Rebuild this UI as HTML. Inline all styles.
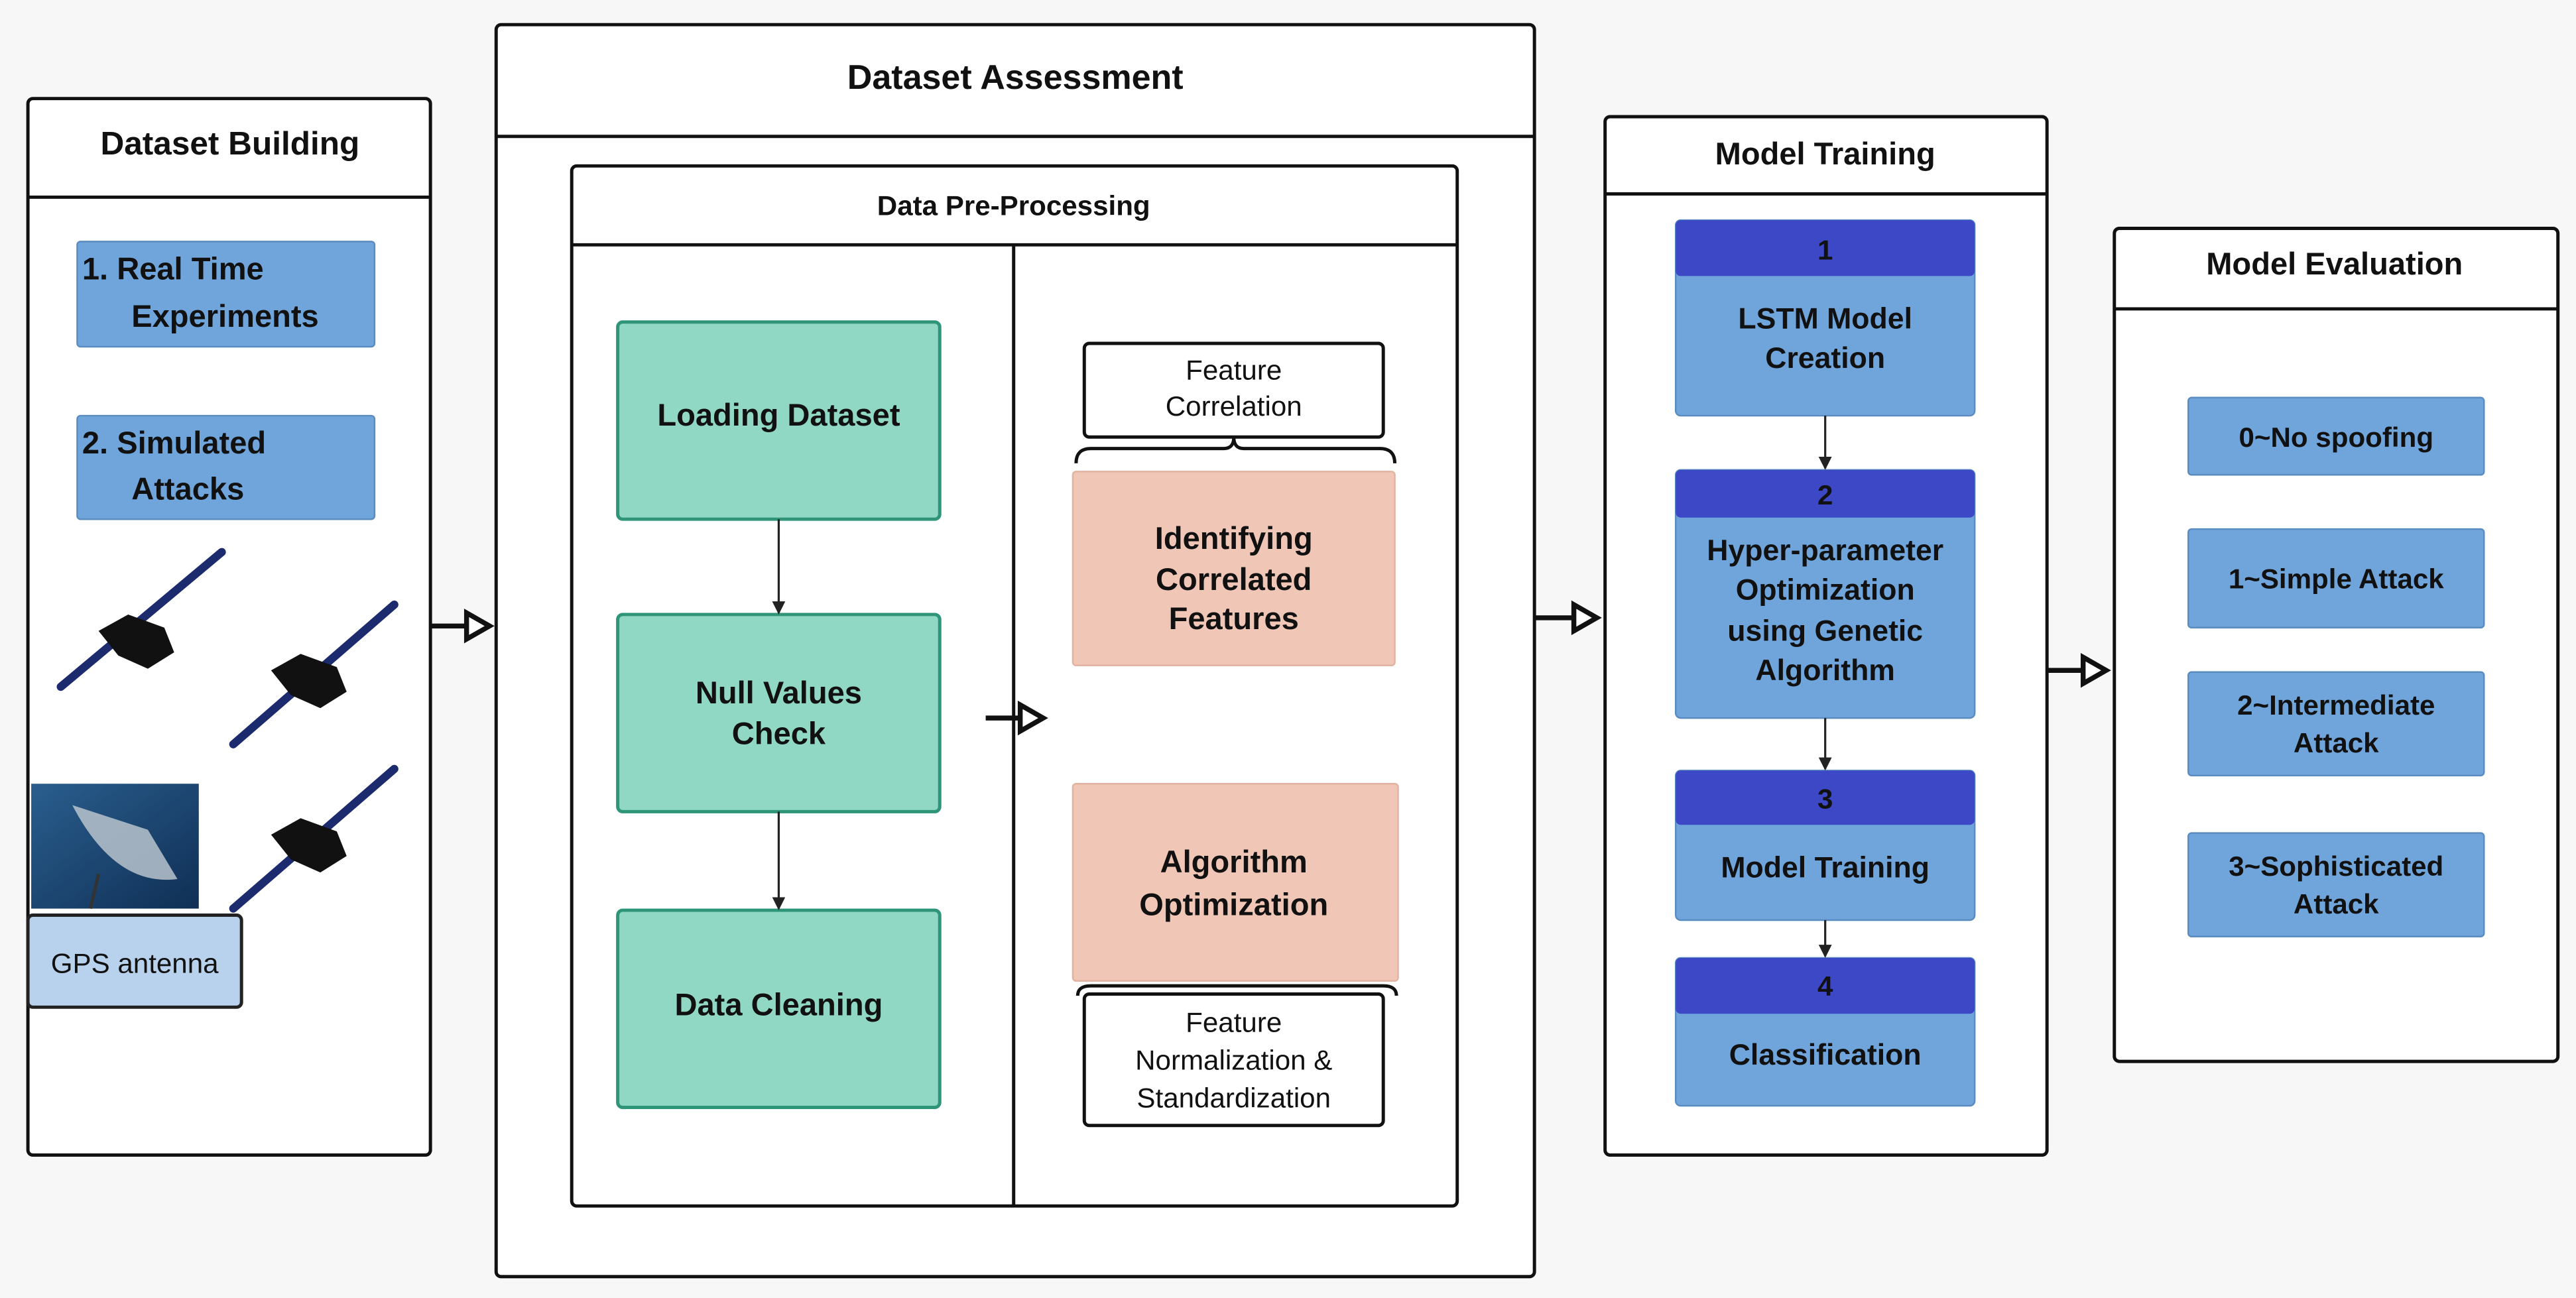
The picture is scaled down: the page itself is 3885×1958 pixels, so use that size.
<!DOCTYPE html>
<html><head><meta charset="utf-8"><style>
html,body{margin:0;padding:0;background:#f7f7f7;}
svg{display:block;}
text{font-family:"Liberation Sans",sans-serif;font-weight:bold;fill:#111;text-anchor:middle;}
.n{font-weight:normal;}
</style></head><body>
<svg width="3885" height="1958" viewBox="0 0 1568 790" preserveAspectRatio="none" xmlns="http://www.w3.org/2000/svg">
<defs>
<marker id="a" markerWidth="8" markerHeight="8" refX="7" refY="4" orient="auto" markerUnits="userSpaceOnUse"><path d="M0,0 L8,4 L0,8 Z" fill="#222"/></marker>
<linearGradient id="dish" x1="0" y1="0" x2="1" y2="1"><stop offset="0" stop-color="#2a5e8e"/><stop offset="1" stop-color="#0f2f55"/></linearGradient>
</defs>
<rect width="1568" height="790" fill="#f7f7f7"/>
<g fill="#fff" stroke="#111" stroke-width="2">
<!-- Dataset Building -->
<rect x="17" y="60" width="245" height="643" rx="3"/>
<line x1="17" y1="120" x2="262" y2="120"/>
<!-- Dataset Assessment -->
<rect x="302" y="15" width="632" height="762" rx="3"/>
<line x1="302" y1="83" x2="934" y2="83"/>
<rect x="348" y="101" width="539" height="633" rx="3"/>
<line x1="348" y1="149" x2="887" y2="149"/>
<line x1="617" y1="149" x2="617" y2="734"/>
<!-- Model Training -->
<rect x="977" y="71" width="269" height="632" rx="3"/>
<line x1="977" y1="118" x2="1246" y2="118"/>
<!-- Model Evaluation -->
<rect x="1287" y="139" width="270" height="507" rx="3"/>
<line x1="1287" y1="188" x2="1557" y2="188"/>
</g>
<text x="140" y="94" font-size="20">Dataset Building</text>
<text x="618" y="54" font-size="21">Dataset Assessment</text>
<text x="617" y="131" font-size="17">Data Pre-Processing</text>
<text x="1111" y="100" font-size="19">Model Training</text>
<text x="1421" y="167" font-size="19">Model Evaluation</text>

<!-- Dataset Building content -->
<g fill="#70a5dc" stroke="#5b8cc0" stroke-width="1">
<rect x="47" y="147" width="181" height="64" rx="2"/>
<rect x="47" y="253" width="181" height="63" rx="2"/>
</g>
<text x="50" y="170" font-size="19" style="text-anchor:start">1. Real Time</text>
<text x="80" y="199" font-size="19" style="text-anchor:start">Experiments</text>
<text x="50" y="276" font-size="19" style="text-anchor:start">2. Simulated</text>
<text x="80" y="304" font-size="19" style="text-anchor:start">Attacks</text>
<!-- satellites -->
<g stroke="#1c2a6e" stroke-width="5" stroke-linecap="round">
<line x1="37" y1="418" x2="135" y2="336"/>
<line x1="142" y1="453" x2="240" y2="368"/>
<line x1="142" y1="553" x2="240" y2="468"/>
</g>
<g fill="#111">
<path d="M60,384 l18,-10 l22,8 l6,15 l-16,10 l-18,-8 z"/>
<path d="M165,408 l18,-10 l22,8 l6,15 l-16,10 l-18,-8 z"/>
<path d="M165,508 l18,-10 l22,8 l6,15 l-16,10 l-18,-8 z"/>
</g>
<rect x="19" y="477" width="102" height="76" fill="url(#dish)"/>
<path d="M44,490 Q70,540 108,535 L90,505 Z" fill="#b9c3cc" opacity="0.85"/>
<line x1="60" y1="532" x2="55" y2="553" stroke="#333" stroke-width="2"/>
<rect x="17" y="557" width="130" height="56" rx="3" fill="#b8d2ee" stroke="#222" stroke-width="2"/>
<text x="82" y="592" font-size="17" class="n">GPS antenna</text>

<!-- big arrows -->
<g stroke="#111" stroke-width="3" fill="#fff">
<line x1="262" y1="381" x2="284" y2="381"/><path d="M284,373 L298,381 L284,389 Z"/>
<line x1="600" y1="437" x2="621" y2="437"/><path d="M621,429 L635,437 L621,445 Z"/>
<line x1="934" y1="376" x2="958" y2="376"/><path d="M958,368 L972,376 L958,384 Z"/>
<line x1="1246" y1="408" x2="1268" y2="408"/><path d="M1268,400 L1282,408 L1268,416 Z"/>
</g>

<!-- teal boxes -->
<g fill="#90d7c4" stroke="#2e9579" stroke-width="2">
<rect x="376" y="196" width="196" height="120" rx="3"/>
<rect x="376" y="374" width="196" height="120" rx="3"/>
<rect x="376" y="554" width="196" height="120" rx="3"/>
</g>
<text x="474" y="259" font-size="19">Loading Dataset</text>
<text x="474" y="428" font-size="19">Null Values</text>
<text x="474" y="453" font-size="19">Check</text>
<text x="474" y="618" font-size="19">Data Cleaning</text>
<g stroke="#222" stroke-width="1.3" marker-end="url(#a)">
<line x1="474" y1="316" x2="474" y2="373"/>
<line x1="474" y1="494" x2="474" y2="553"/>
</g>

<!-- right column -->
<rect x="660" y="209" width="182" height="57" rx="3" fill="#fff" stroke="#111" stroke-width="2"/>
<text x="751" y="231" font-size="17" class="n">Feature</text>
<text x="751" y="253" font-size="17" class="n">Correlation</text>
<path d="M655,282 Q655,273 664,273 L745,273 Q751,273 751,266 Q751,273 757,273 L840,273 Q849,273 849,282" fill="none" stroke="#111" stroke-width="2"/>
<g fill="#f0c6b6" stroke="#e3b3a2" stroke-width="1">
<rect x="653" y="287" width="196" height="118" rx="2"/>
<rect x="653" y="477" width="198" height="120" rx="2"/>
</g>
<text x="751" y="334" font-size="19">Identifying</text>
<text x="751" y="359" font-size="19">Correlated</text>
<text x="751" y="383" font-size="19">Features</text>
<text x="751" y="531" font-size="19">Algorithm</text>
<text x="751" y="557" font-size="19">Optimization</text>
<path d="M656,606 Q656,600 664,600 L842,600 Q850,600 850,606" fill="none" stroke="#111" stroke-width="2"/>
<rect x="660" y="605" width="182" height="80" rx="3" fill="#fff" stroke="#111" stroke-width="2"/>
<text x="751" y="628" font-size="17" class="n">Feature</text>
<text x="751" y="651" font-size="17" class="n">Normalization &amp;</text>
<text x="751" y="674" font-size="17" class="n">Standardization</text>

<!-- Model training boxes -->
<g fill="#70a5dc" stroke="#5b8cc0" stroke-width="1">
<rect x="1020" y="134" width="182" height="119" rx="3"/>
<rect x="1020" y="286" width="182" height="151" rx="3"/>
<rect x="1020" y="469" width="182" height="91" rx="3"/>
<rect x="1020" y="583" width="182" height="90" rx="3"/>
</g>
<g fill="#3d48c6">
<rect x="1020" y="134" width="182" height="34" rx="3"/>
<rect x="1020" y="286" width="182" height="29" rx="3"/>
<rect x="1020" y="469" width="182" height="33" rx="3"/>
<rect x="1020" y="583" width="182" height="34" rx="3"/>
</g>
<text x="1111" y="158" font-size="17">1</text>
<text x="1111" y="307" font-size="17">2</text>
<text x="1111" y="492" font-size="17">3</text>
<text x="1111" y="606" font-size="17">4</text>
<text x="1111" y="200" font-size="18">LSTM Model</text>
<text x="1111" y="224" font-size="18">Creation</text>
<text x="1111" y="341" font-size="18">Hyper-parameter</text>
<text x="1111" y="365" font-size="18">Optimization</text>
<text x="1111" y="390" font-size="18">using Genetic</text>
<text x="1111" y="414" font-size="18">Algorithm</text>
<text x="1111" y="534" font-size="18">Model Training</text>
<text x="1111" y="648" font-size="18">Classification</text>
<g stroke="#222" stroke-width="1.3" marker-end="url(#a)">
<line x1="1111" y1="253" x2="1111" y2="285"/>
<line x1="1111" y1="437" x2="1111" y2="468"/>
<line x1="1111" y1="560" x2="1111" y2="582"/>
</g>

<!-- Model evaluation boxes -->
<g fill="#70a5dc" stroke="#5b8cc0" stroke-width="1">
<rect x="1332" y="242" width="180" height="47" rx="2"/>
<rect x="1332" y="322" width="180" height="60" rx="2"/>
<rect x="1332" y="409" width="180" height="63" rx="2"/>
<rect x="1332" y="507" width="180" height="63" rx="2"/>
</g>
<text x="1422" y="272" font-size="17">0~No spoofing</text>
<text x="1422" y="358" font-size="17">1~Simple Attack</text>
<text x="1422" y="435" font-size="17">2~Intermediate</text>
<text x="1422" y="458" font-size="17">Attack</text>
<text x="1422" y="533" font-size="17">3~Sophisticated</text>
<text x="1422" y="556" font-size="17">Attack</text>
</svg>
</body></html>
